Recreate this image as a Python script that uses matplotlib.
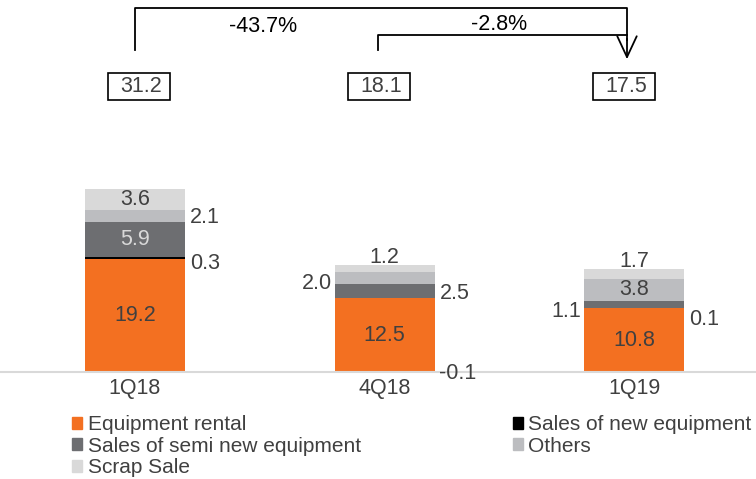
import numpy as np
import matplotlib.pyplot as plt
from matplotlib.patches import Patch, Rectangle

plt.rcParams['font.family'] = ['Liberation Sans', 'DejaVu Sans']

# data
quarters = ['1Q18', '4Q18', '1Q19']
series = ['Equipment rental', 'Sales of new equipment',
          'Sales of semi new equipment', 'Others', 'Scrap Sale']
rental = [19.2, 12.5, 10.8]
new_equip = [0.3, -0.1, 0.1]
semi_new = [5.9, 2.5, 1.1]
others = [2.1, 2.0, 3.8]
scrap = [3.6, 1.2, 1.7]
totals = [31.2, 18.1, 17.5]
changes = ['-43.7%', '-2.8%']

colors = ['#F37021', '#000000', '#6D6E71', '#BCBDC0', '#D9D9D9']
TXT = '#404040'
FS = 15.5

# where each value label goes: in / right / left / top, plus nudge in px (down)
placement = [
    ['in', 'in', 'in'],
    ['right', 'right', 'right'],
    ['in', 'right', 'left'],
    ['right', 'left', 'in'],
    ['in', 'top', 'top'],
]
nudge_px = [
    [0, 0, 0],
    [6, 1, 12],
    [0, 3, 7],
    [2, 6, 0],
    [0, 0, 0],
]
in_color = [TXT, TXT, '#D9D9D9', TXT, TXT]

W, H = 756, 479
PX_PER_UNIT = 5.9
BASE_PX = 372          # baseline, px from top
SPACING = 249.5        # px between bar centres
X0_PX = 135

fig = plt.figure(figsize=(W / 100, H / 100), dpi=100)
ax = fig.add_axes([0, (H - BASE_PX) / H, 1, BASE_PX / H])
ax.set_xlim(-X0_PX / SPACING, (W - X0_PX) / SPACING)
ax.set_ylim(0, BASE_PX / PX_PER_UNIT)


def px2y(py):
    return (BASE_PX - py) / PX_PER_UNIT


def px2x(px):
    return (px - X0_PX) / SPACING


x = np.arange(len(quarters))
bw = 100 / SPACING
values = [rental, new_equip, semi_new, others, scrap]
bottom = np.zeros(len(quarters))
for i, (vals, col, name) in enumerate(zip(values, colors, series)):
    vals = np.array(vals)
    b = np.where(vals < 0, 0, bottom)
    ax.bar(x, vals, bw, bottom=b, color=col, label=name, clip_on=False,
           linewidth=0)
    for j in range(len(quarters)):
        v = vals[j]
        mid = b[j] + v / 2 - nudge_px[i][j] / PX_PER_UNIT
        top = b[j] + max(v, 0)
        where = placement[i][j]
        lbl = f'{v:.1f}'
        if where == 'in':
            ax.text(x[j], mid, lbl, ha='center', va='center', fontsize=FS,
                    color=in_color[i])
        elif where == 'right':
            ax.text(x[j] + bw / 2 + 0.02, mid, lbl, ha='left',
                    va='center', fontsize=FS, color=TXT, clip_on=False)
        elif where == 'left':
            ax.text(x[j] - bw / 2 - 0.01, mid, lbl, ha='right',
                    va='center', fontsize=FS, color=TXT)
        else:
            ax.text(x[j], top - 0.6, lbl, ha='center', va='bottom',
                    fontsize=FS, color=TXT)
    bottom = bottom + np.where(vals > 0, vals, 0)

# totals in boxes
box_x = [px2x(139), px2x(139 + 240), px2x(624)]
bwid, bhgt = 62 / SPACING, 27 / PX_PER_UNIT
for bx, t in zip(box_x, totals):
    ax.add_patch(Rectangle((bx - bwid / 2, px2y(100)), bwid, bhgt,
                           fc='white', ec='black', lw=1.2, clip_on=False))
    ax.text(bx + 0.01, px2y(87), f'{t:.1f}', ha='center', va='center',
            fontsize=FS, color=TXT)

# change brackets
xe = px2x(627)
ax.plot([0, 0, xe, xe], [px2y(50), px2y(8), px2y(8), px2y(40)],
        color='black', lw=1.3, clip_on=False)
ax.annotate('', xy=(xe, px2y(62)), xytext=(xe, px2y(36)),
            arrowprops=dict(arrowstyle='->,head_length=1.5,head_width=0.7',
                            color='black', lw=1.3), annotation_clip=False)
x2 = px2x(378)
ax.plot([x2, x2, xe], [px2y(50), px2y(35), px2y(35)], color='black', lw=1.3,
        clip_on=False)
ax.text(px2x(263), px2y(27), changes[0], ha='center', va='center',
        fontsize=FS, color='black')
ax.text(px2x(499), px2y(24), changes[1], ha='center', va='center',
        fontsize=FS, color='black')

# axes styling
for s in ['top', 'right', 'left']:
    ax.spines[s].set_visible(False)
ax.spines['bottom'].set_color('#D9D9D9')
ax.spines['bottom'].set_linewidth(1.5)
ax.set_yticks([])
ax.set_xticks(x)
ax.set_xticklabels(quarters, fontsize=FS, color=TXT)
ax.tick_params(axis='x', length=0, pad=4.5)
ax.patch.set_alpha(0)

order = [0, 2, 4, 1, 3]
handles = [Patch(color=colors[k]) for k in order]
fig.legend(handles, [series[k] for k in order], ncol=2,
           loc='upper left', bbox_to_anchor=(72 / W, 1 - 415 / H),
           frameon=False, fontsize=15, labelcolor=TXT,
           handlelength=0.5, handleheight=0.5, handletextpad=0.25,
           labelspacing=0.12, columnspacing=7.3, borderpad=0,
           borderaxespad=0)

fig.savefig('out.png', dpi=100)
